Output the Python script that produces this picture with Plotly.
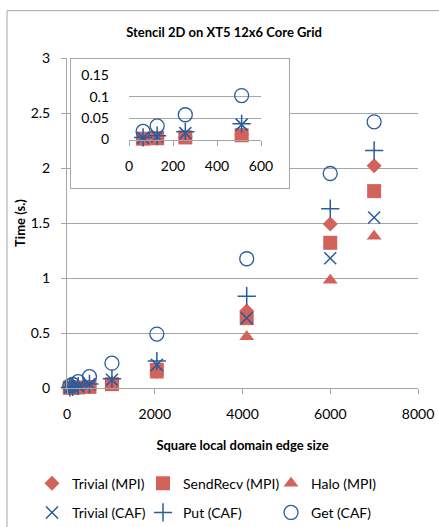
import plotly.graph_objects as go

# ---- data ----
edge_size = [64, 128, 256, 512, 1024, 2048, 4096, 6000, 7000]
trivial_mpi = [0.002, 0.003, 0.006, 0.012, 0.045, 0.15, 0.70, 1.49, 2.02]
sendrecv_mpi = [0.002, 0.003, 0.005, 0.010, 0.035, 0.165, 0.635, 1.32, 1.79]
halo_mpi = [0.001, 0.002, 0.004, 0.008, 0.030, 0.115, 0.467, 0.98, 1.38]
trivial_caf = [0.004, 0.007, 0.015, 0.035, 0.075, 0.21, 0.635, 1.18, 1.55]
put_caf = [0.005, 0.009, 0.018, 0.037, 0.085, 0.245, 0.835, 1.63, 2.16]
get_caf = [0.019, 0.032, 0.058, 0.103, 0.226, 0.49, 1.175, 1.95, 2.42]
n_inset = 4  # points shown in inset (edge <= 512)

main_xticks = [0, 2000, 4000, 6000, 8000]
main_yticks = [0, 0.5, 1, 1.5, 2, 2.5, 3]
inset_xticks = [0, 200, 400, 600]
inset_yticks = [0, 0.05, 0.1, 0.15]

RED = "#D2625A"
BLUE = "#2A5C9C"
GRID = "#A6A6A6"
FONT = "Lato"

W, H = 439, 527
ML, MR, MT, MB = 67, 21, 57.5, 138.5
PW = W - ML - MR
PH = H - MT - MB


def px_to_paper_x(px):
    return (px - ML) / PW


def px_to_paper_y(py):
    return (H - MB - py) / PH


# (name, values, marker, legend column, legend group)
series = [
    ("Trivial (MPI)", trivial_mpi, dict(symbol="diamond", size=11.5, color=RED), "legend", "r1"),
    ("SendRecv (MPI)", sendrecv_mpi, dict(symbol="square", size=14, color=RED), "legend2", "r1"),
    ("Halo (MPI)", halo_mpi, dict(symbol="triangle-up", size=13, color=RED), "legend3", "r1"),
    ("Trivial (CAF)", trivial_caf, dict(symbol="x-thin-open", size=12, color=BLUE,
                                       line=dict(color=BLUE, width=1.5)), "legend", "r2"),
    ("Put (CAF)", put_caf, dict(symbol="cross-thin-open", size=13, color=BLUE,
                                line=dict(color=BLUE, width=1.5)), "legend2", "r2"),
    ("Get (CAF)", get_caf, dict(symbol="circle-open", size=14, color=BLUE,
                                line=dict(color=BLUE, width=1.3)), "legend3", "r2"),
]

fig = go.Figure()
for name, ys, mk, lg, grp in series:
    fig.add_trace(go.Scatter(x=edge_size, y=ys, mode="markers", name=name, marker=mk,
                             cliponaxis=False, legend=lg, legendgroup=grp,
                             xaxis="x", yaxis="y"))
for name, ys, mk, lg, grp in series:
    fig.add_trace(go.Scatter(x=edge_size[:n_inset], y=ys[:n_inset], mode="markers", name=name,
                             marker=mk, cliponaxis=False, showlegend=False,
                             xaxis="x3", yaxis="y3"))

# invisible frame subplot to host the inset box (covers main gridlines)
fig.add_trace(go.Scatter(x=[0], y=[0], mode="markers", marker=dict(opacity=0),
                         showlegend=False, hoverinfo="skip", xaxis="x2", yaxis="y2"))

axis_font = dict(family=FONT, size=14, color="#000")
legend_font = dict(family=FONT, size=14, color="#000")
LEG_GAP = 8


def legend_at(text_left_px):
    return dict(orientation="v", x=px_to_paper_x(text_left_px - 40), xanchor="left",
                y=px_to_paper_y(499), yanchor="middle", font=legend_font,
                bgcolor="rgba(0,0,0,0)", traceorder="grouped", tracegroupgap=LEG_GAP)


fig.update_layout(
    width=W, height=H,
    margin=dict(l=ML, r=MR, t=MT, b=MB, autoexpand=False),
    paper_bgcolor="white", plot_bgcolor="white",
    font=dict(family=FONT, size=14, color="#000"),
    title=dict(text="<b>Stencil 2D on XT5 12x6 Core Grid</b>", x=(224 - ML) / PW, xref="paper",
               xanchor="center", y=1 - 32 / H, yanchor="middle",
               font=dict(family=FONT, size=13, color="#000")),
    xaxis=dict(domain=[0, 1], range=[0, 8000], tickvals=main_xticks, showgrid=False,
               showline=True, linecolor=GRID, ticks="outside", ticklen=5, tickcolor=GRID,
               zeroline=False, tickfont=axis_font, ticklabelstandoff=8,
               title=dict(text="<b>Square local domain edge size</b>", standoff=20,
                          font=dict(family=FONT, size=13, color="#000"))),
    yaxis=dict(domain=[0, 1], range=[0, 3], tickvals=main_yticks, showgrid=True,
               gridcolor=GRID, showline=True, linecolor=GRID, ticks="outside", ticklen=5,
               tickcolor=GRID, zeroline=False, tickfont=axis_font, ticklabelstandoff=8,
               title=dict(text="<b>Time (s.)</b>", standoff=2,
                          font=dict(family=FONT, size=13, color="#000"))),
    xaxis2=dict(domain=[px_to_paper_x(70.7), px_to_paper_x(289.3)], anchor="y2",
                range=[0, 1], showline=True, mirror=True, linecolor=GRID, showgrid=False,
                zeroline=False, showticklabels=False, ticks=""),
    yaxis2=dict(domain=[px_to_paper_y(188), px_to_paper_y(58.5)], anchor="x2",
                range=[0, 1], showline=True, mirror=True, linecolor=GRID, showgrid=False,
                zeroline=False, showticklabels=False, ticks=""),
    xaxis3=dict(domain=[px_to_paper_x(129), px_to_paper_x(261)], anchor="y3",
                range=[0, 600], tickvals=inset_xticks, showgrid=False, showline=True,
                linecolor=GRID, ticks="outside", ticklen=5, tickcolor=GRID, zeroline=False,
                tickfont=axis_font, ticklabelstandoff=9),
    yaxis3=dict(domain=[px_to_paper_y(139.3), px_to_paper_y(75)], anchor="x3",
                range=[0, 0.15], tickvals=inset_yticks, ticktext=["0", "0.05", "0.1", "0.15"],
                showgrid=True, gridcolor=GRID, showline=False, ticks="", zeroline=False,
                tickfont=axis_font, ticklabelstandoff=19),
    legend=legend_at(72),
    legend2=legend_at(183),
    legend3=legend_at(311),
    shapes=[dict(type="rect", xref="paper", yref="paper",
                 x0=px_to_paper_x(7), x1=px_to_paper_x(W + 20),
                 y0=px_to_paper_y(H + 20), y1=px_to_paper_y(10),
                 line=dict(color=GRID, width=1), fillcolor="rgba(0,0,0,0)", layer="below")],
)

fig.write_html("out.html", config={"displayModeBar": False},
               post_script="document.body.style.margin='0';document.body.style.overflow='hidden';")
